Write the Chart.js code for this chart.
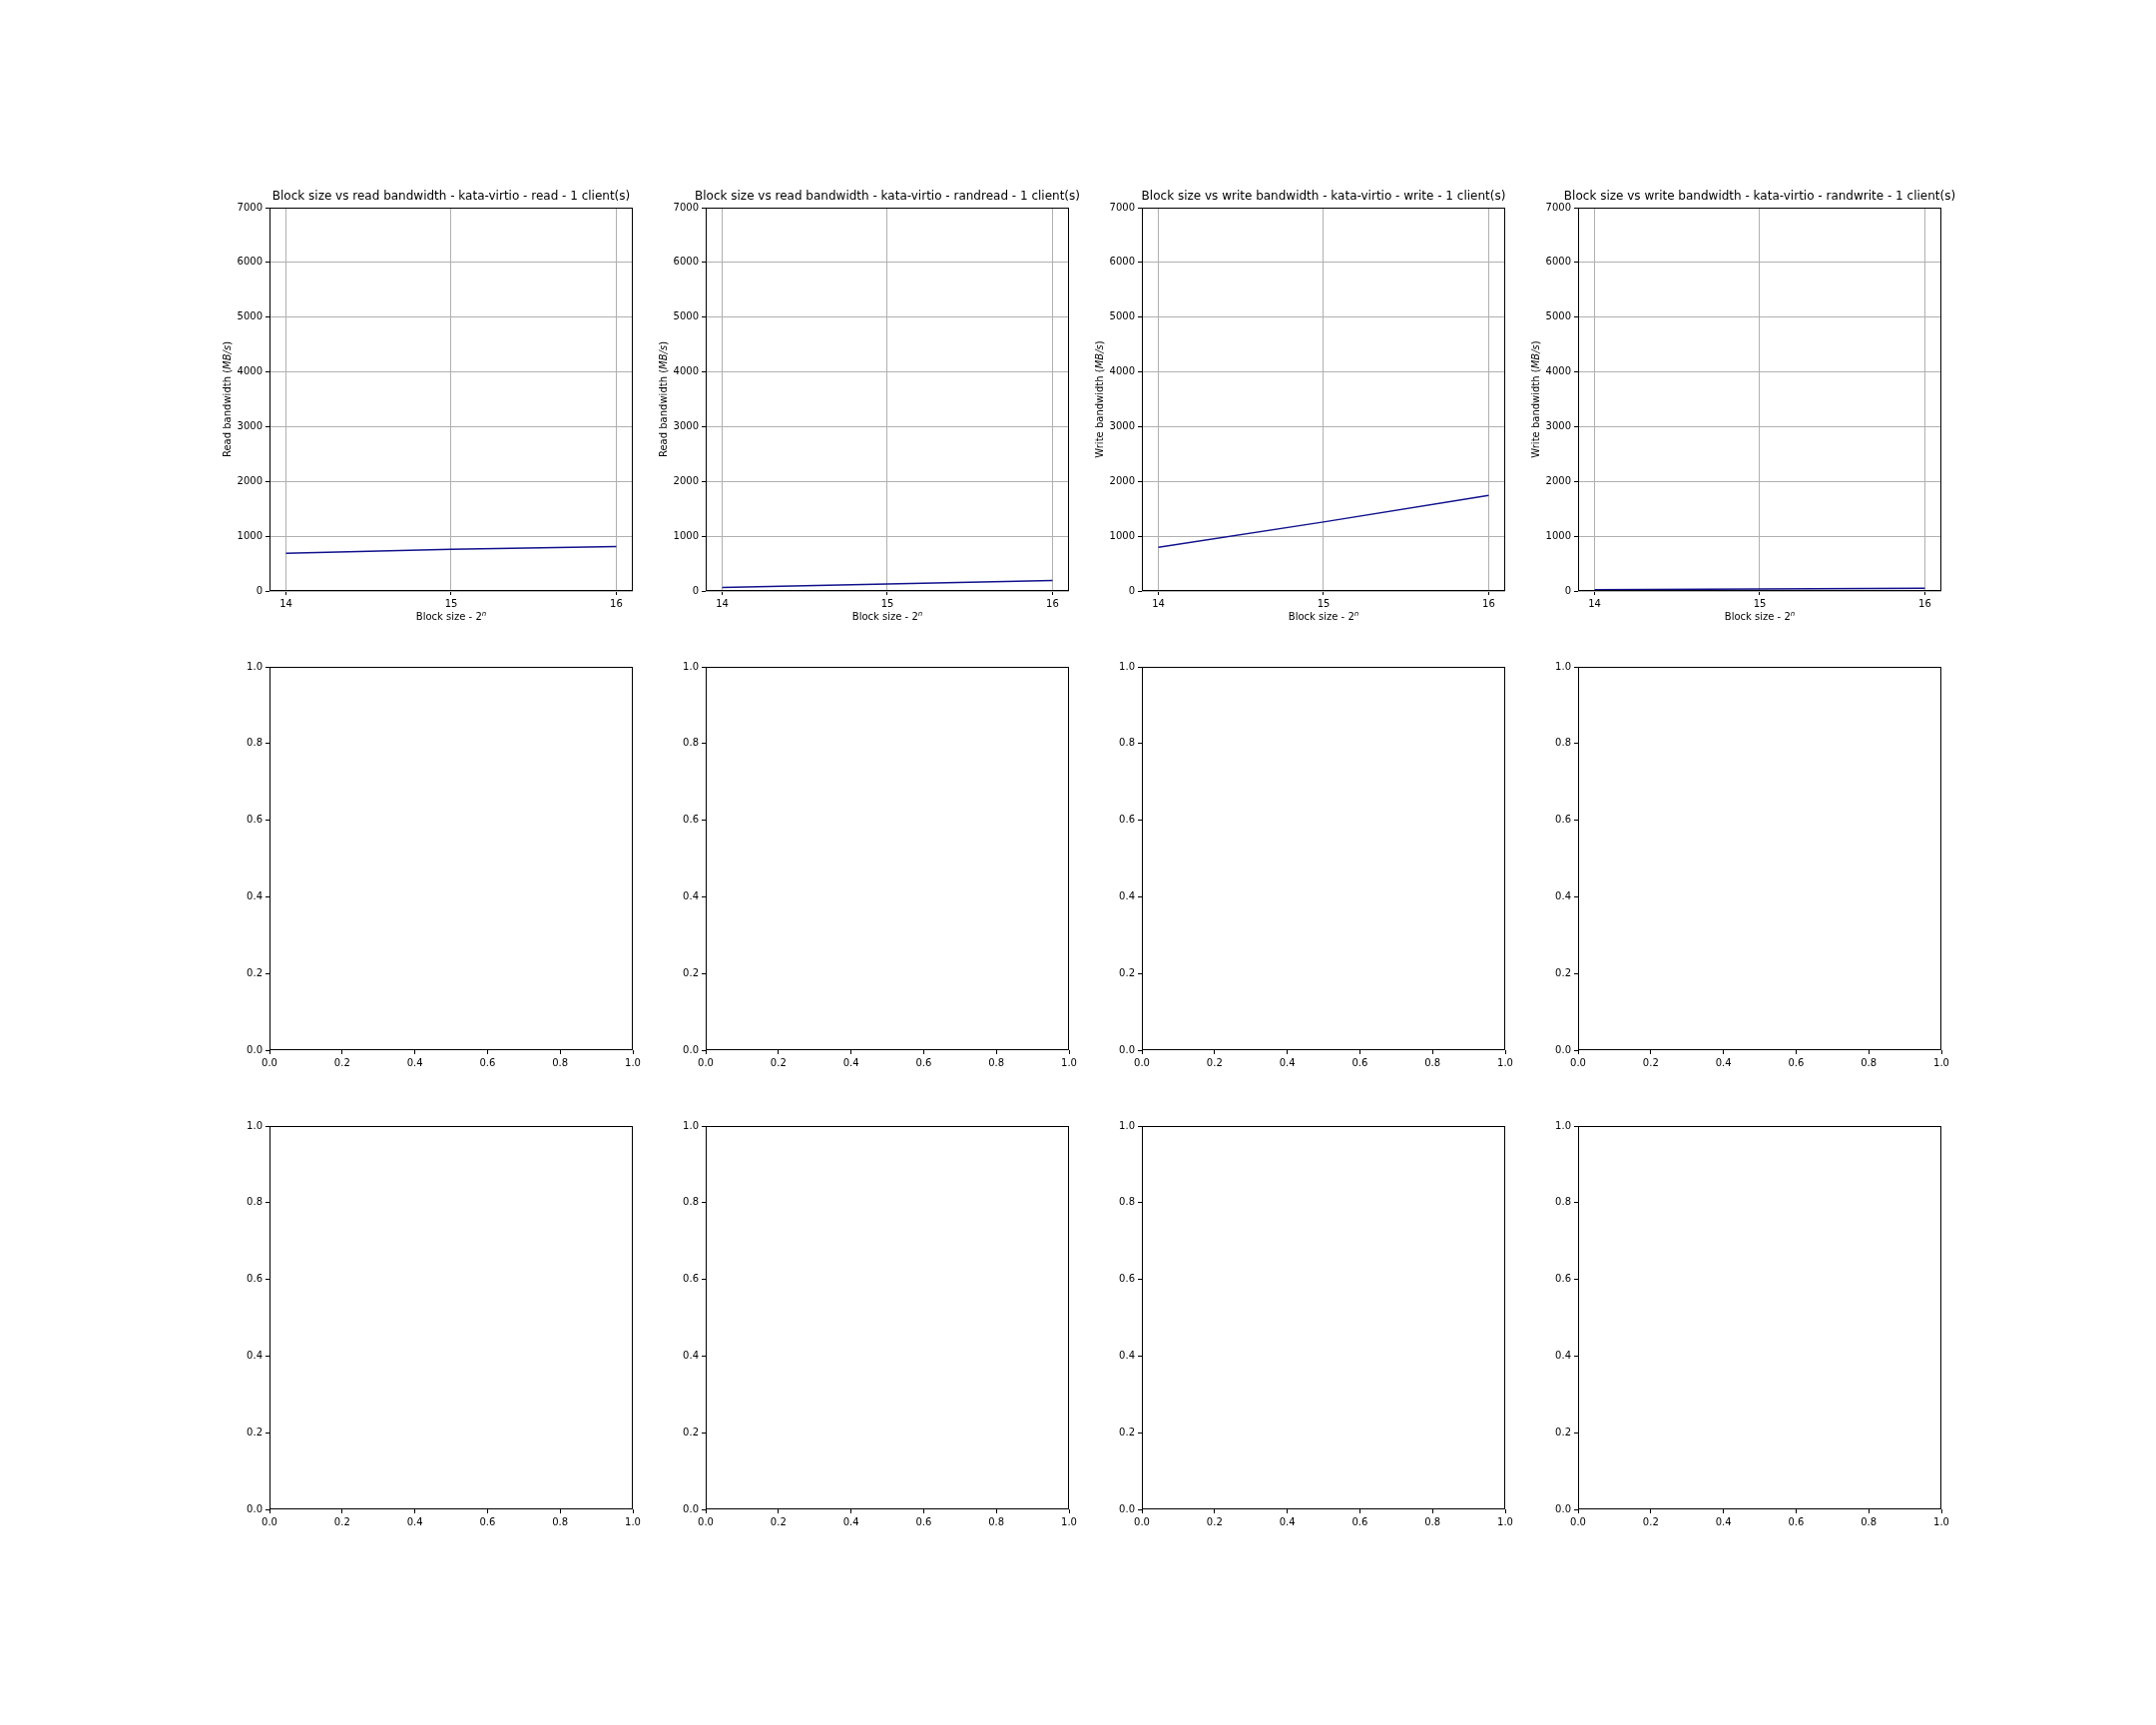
<!DOCTYPE html>
<html>
<head>
<meta charset="utf-8">
<script src="https://cdn.jsdelivr.net/npm/chart.js@4.4.1/dist/chart.umd.min.js"></script>
<style>
  html, body { margin: 0; padding: 0; background: #ffffff; }
  body { width: 2160px; height: 1728px; position: relative; overflow: hidden; }
  canvas { position: absolute; }
</style>
</head>
<body>
<script>
// ---------- data ----------
const blockExp = [14, 15, 16];                    // block size exponent (2^n)
const readSeqBW = [690, 760, 813];                // kata-virtio read
const readRandBW = [66, 128, 193];                // kata-virtio randread
const writeSeqBW = [797, 1260, 1747];             // kata-virtio write
const writeRandBW = [24, 37, 49];                 // kata-virtio randwrite
const xTicksTop = [14, 15, 16];
const yTicksTop = [0, 1000, 2000, 3000, 4000, 5000, 6000, 7000];
const emptyTicks = [0, 0.2, 0.4, 0.6, 0.8, 1.0];
const topTitles = [
  'Block size vs read bandwidth - kata-virtio - read - 1 client(s)',
  'Block size vs read bandwidth - kata-virtio - randread - 1 client(s)',
  'Block size vs write bandwidth - kata-virtio - write - 1 client(s)',
  'Block size vs write bandwidth - kata-virtio - randwrite - 1 client(s)'
];
const topYLabels = ['Read bandwidth', 'Read bandwidth', 'Write bandwidth', 'Write bandwidth'];
const topSeries = [readSeqBW, readRandBW, writeSeqBW, writeRandBW];

// ---------- layout ----------
const FONT = "'DejaVu Sans', sans-serif";
const PLOT_W = 364, PLOT_H = 384;
const colLeft = c => Math.round(270 + c * 436.9);
const rowTop = r => Math.round(207.6 + r * 460.3);
const PAD_L = 72, PAD_R = 72, PAD_T = 30, PAD_B = 45;

const framePlugin = {
  id: 'mplFrame',
  afterDraw(chart) {
    const a = chart.chartArea, ctx = chart.ctx;
    ctx.save();
    ctx.strokeStyle = '#000000';
    ctx.lineWidth = 1;
    const l = Math.round(a.left) + 0.5, r = Math.round(a.right) - 0.5;
    const t = Math.round(a.top) + 0.5, b = Math.round(a.bottom) - 0.5;
    ctx.strokeRect(l, t, r - l, b - t);
    ctx.restore();
  }
};

function drawSegments(ctx, segs, x, y) {
  let total = 0;
  const widths = segs.map(s => {
    ctx.font = (s.italic ? 'italic ' : '') + (s.sup ? '7px ' : '10px ') + FONT;
    const w = ctx.measureText(s.t).width;
    total += w;
    return w;
  });
  let cx = x - total / 2;
  segs.forEach((s, i) => {
    ctx.font = (s.italic ? 'italic ' : '') + (s.sup ? '7px ' : '10px ') + FONT;
    ctx.fillText(s.t, cx, y - (s.sup ? 4 : 0));
    cx += widths[i];
  });
}

const labelPlugin = {
  id: 'mplLabels',
  afterDraw(chart, args, opts) {
    const a = chart.chartArea, ctx = chart.ctx;
    ctx.save();
    ctx.fillStyle = '#000000';
    ctx.textBaseline = 'alphabetic';
    ctx.textAlign = 'left';
    if (opts.xlabel) {
      drawSegments(ctx, opts.xlabel, (a.left + a.right) / 2, a.bottom + 29);
    }
    if (opts.ylabel) {
      ctx.translate(a.left - 39, (a.top + a.bottom) / 2);
      ctx.rotate(-Math.PI / 2);
      drawSegments(ctx, opts.ylabel, 0, 0);
    }
    ctx.restore();
  }
};

function makeCanvas(r, c) {
  const cv = document.createElement('canvas');
  const w = PAD_L + PLOT_W + PAD_R, h = PAD_T + PLOT_H + PAD_B;
  cv.width = w; cv.height = h;
  cv.style.width = w + 'px'; cv.style.height = h + 'px';
  cv.style.left = (colLeft(c) - PAD_L) + 'px';
  cv.style.top = (rowTop(r) - PAD_T) + 'px';
  document.body.appendChild(cv);
  return cv;
}

function axisCommon(isX, tickVals, gridOn, fmt, min, max) {
  return {
    type: 'linear',
    min: min, max: max,
    afterBuildTicks(scale) { scale.ticks = tickVals.map(v => ({ value: v })); },
    afterFit(scale) { if (isX) scale.height = PAD_B; else scale.width = PAD_L; },
    grid: {
      display: true,
      drawOnChartArea: gridOn,
      color: '#b0b0b0',
      lineWidth: 1,
      drawTicks: true,
      tickLength: 4,
      tickColor: '#000000',
      tickWidth: 1
    },
    border: { display: false },
    ticks: {
      color: '#000000',
      font: { family: FONT, size: 10 },
      padding: 3,
      maxRotation: 0,
      autoSkip: false,
      callback: fmt
    }
  };
}

// invisible right-hand spacer axis so the title centres over the plot area
const spacerAxis = {
  type: 'linear',
  position: 'right',
  display: true,
  min: 0, max: 1,
  afterFit(scale) { scale.width = PAD_R; },
  grid: { display: false, drawTicks: false },
  border: { display: false },
  ticks: { display: false }
};

Chart.defaults.font.family = FONT;

// ---------- top row: data charts ----------
for (let c = 0; c < 4; c++) {
  const cv = makeCanvas(0, c);
  new Chart(cv, {
    type: 'scatter',
    data: {
      datasets: [{
        data: blockExp.map((x, k) => ({ x: x, y: topSeries[c][k] })),
        showLine: true,
        borderColor: '#10108c',
        backgroundColor: '#10108c',
        borderWidth: 1.5,
        pointRadius: 0,
        pointHoverRadius: 0,
        tension: 0,
        fill: false
      }]
    },
    options: {
      responsive: false,
      animation: false,
      devicePixelRatio: 1,
      layout: { padding: 0 },
      scales: {
        x: axisCommon(true, xTicksTop, true, v => String(v), 13.9, 16.1),
        y: axisCommon(false, yTicksTop, true, v => String(v), 0, 7000),
        yr: spacerAxis
      },
      plugins: {
        legend: { display: false },
        tooltip: { enabled: false },
        title: {
          display: true,
          text: topTitles[c],
          color: '#000000',
          fullSize: true,
          font: { family: FONT, size: 12, weight: 'normal', lineHeight: 1.2 },
          padding: { top: 11.3, bottom: 30 - 11.3 - 14.4 }
        },
        mplLabels: {
          xlabel: [{ t: 'Block size - 2' }, { t: 'n', italic: true, sup: true }],
          ylabel: [{ t: topYLabels[c] + ' (' }, { t: 'MB/s', italic: true }, { t: ')' }]
        }
      }
    },
    plugins: [framePlugin, labelPlugin]
  });
}

// ---------- rows 2 and 3: empty axes ----------
for (let r = 1; r < 3; r++) {
  for (let c = 0; c < 4; c++) {
    const cv = makeCanvas(r, c);
    new Chart(cv, {
      type: 'scatter',
      data: { datasets: [] },
      options: {
        responsive: false,
        animation: false,
        devicePixelRatio: 1,
        layout: { padding: { left: 0, right: 0, top: PAD_T, bottom: 0 } },
        scales: {
          x: axisCommon(true, emptyTicks, false, v => v.toFixed(1), 0, 1),
          y: axisCommon(false, emptyTicks, false, v => v.toFixed(1), 0, 1),
          yr: spacerAxis
        },
        plugins: {
          legend: { display: false },
          tooltip: { enabled: false },
          title: { display: false },
          mplLabels: {}
        }
      },
      plugins: [framePlugin, labelPlugin]
    });
  }
}
</script>
</body>
</html>
